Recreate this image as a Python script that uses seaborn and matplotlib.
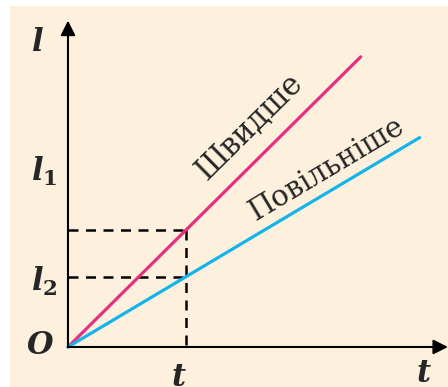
import matplotlib
matplotlib.use("Agg")
import matplotlib.pyplot as plt
from matplotlib.patches import Rectangle
import pandas as pd
import seaborn as sns

# line data (t in units of t1, l in the same scale)
fast_t = [0.0, 2.48]
fast_l = [0.0, 2.48]
slow_t = [0.0, 2.98]
slow_l = [0.0, 1.79]
t1 = 1.0
l1 = 1.0
l2 = 0.6
speed_names = ["Швидше", "Повільніше"]

df = pd.DataFrame({
    "t": fast_t + slow_t,
    "l": fast_l + slow_l,
    "speed": [speed_names[0]] * len(fast_t) + [speed_names[1]] * len(slow_t),
})

sns.set_style("white")
plt.rcParams["font.family"] = ["DejaVu Serif"]
plt.rcParams["mathtext.fontset"] = "custom"
plt.rcParams["mathtext.it"] = "DejaVu Serif:italic:bold"
plt.rcParams["mathtext.rm"] = "DejaVu Serif:bold"

bg = "#fdf1de"
fig = plt.figure(figsize=(4.48, 3.87), dpi=100, facecolor=bg)
ax = fig.add_axes([0, 0, 1, 1])
ax.set_xlim(-0.576, 3.22)
ax.set_ylim(-0.342, 2.966)
ax.set_axis_off()

# dashed guides
ax.plot([0, t1], [l1, l1], color="black", lw=1.8, dashes=(4, 3))
ax.plot([0, t1], [l2, l2], color="black", lw=1.8, dashes=(4, 3))
ax.plot([t1, t1], [l1, 0], color="black", lw=1.8, dashes=(4, 3))

sns.lineplot(data=df, x="t", y="l", hue="speed",
             palette={speed_names[0]: "#e6307f", speed_names[1]: "#14b4ea"},
             linewidth=2.3, legend=False, ax=ax)

# axes with arrows
arrow = dict(arrowstyle="-|>", lw=1.5, color="black", mutation_scale=22,
             shrinkA=0, shrinkB=0)
ax.annotate("", xy=(3.22, 0), xytext=(0, 0), arrowprops=arrow)
ax.annotate("", xy=(0, 2.79), xytext=(0, 0), arrowprops=arrow)

# labels
ax.text(-0.263, 2.60, r"$l$", fontsize=22, ha="center", va="center")
ax.text(-0.203, 1.50, r"$l_1$", fontsize=22, ha="center", va="center")
ax.text(-0.203, 0.56, r"$l_2$", fontsize=22, ha="center", va="center")
ax.text(-0.237, 0.01, r"$O$", fontsize=22, ha="center", va="center")
ax.text(0.94, -0.265, r"$t$", fontsize=22, ha="center", va="center")
ax.text(3.02, -0.225, r"$t$", fontsize=22, ha="center", va="center")

ax.text(1.54, 1.88, speed_names[0], fontsize=22, rotation=44.7,
        rotation_mode="anchor", ha="center", va="center")
ax.text(2.19, 1.52, speed_names[1], fontsize=21, rotation=30.9,
        rotation_mode="anchor", ha="center", va="center")

# white page margins
fig.patches.append(Rectangle((0, 1 - 6 / 387), 1, 6 / 387, transform=fig.transFigure,
                             facecolor="white", edgecolor="none", zorder=10))
fig.patches.append(Rectangle((0, 0), 10 / 448, 1, transform=fig.transFigure,
                             facecolor="white", edgecolor="none", zorder=10))

fig.savefig("out.png", dpi=100, facecolor=bg)
